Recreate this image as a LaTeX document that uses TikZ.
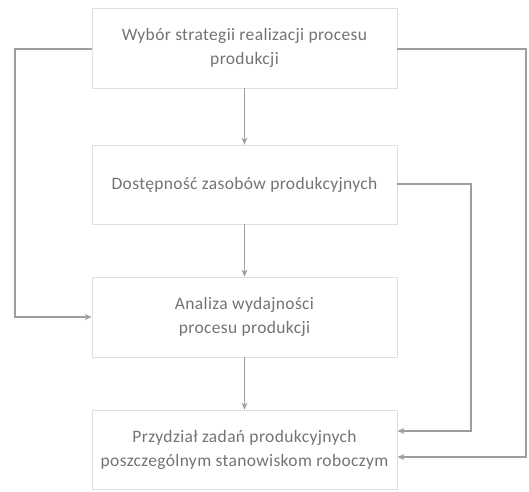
\documentclass[tikz,border=0pt]{standalone}
\usepackage{fontspec}
\setmainfont{Carlito}[LetterSpace=2]
\usetikzlibrary{arrows.meta}
\begin{document}
\begin{tikzpicture}[x=1pt,y=-1pt,
  box/.style={draw=black!12,line width=0.8pt,minimum width=305pt,inner sep=0pt,align=center,text=black!55,font=\fontsize{17.5}{24}\selectfont},
  conn/.style={draw=black!38,line width=1.2pt,-{Stealth[length=7pt,width=6pt]}}]
\useasboundingbox (0,0) rectangle (529,491);
\node[box,minimum height=80pt] (b1) at (244.5,48) {Wybór strategii realizacji procesu\\produkcji};
\node[box,minimum height=79pt] (b2) at (244.5,184.5) {Dostępność zasobów produkcyjnych};
\node[box,minimum height=80pt] (b3) at (244.5,317) {Analiza wydajności\\procesu produkcji};
\node[box,minimum height=79pt] (b4) at (244.5,449.5) {Przydział zadań produkcyjnych\\poszczególnym stanowiskom roboczym};
\coordinate (l1) at (15,49);
\coordinate (l2) at (15,317);
\coordinate (r1) at (526,49);
\coordinate (r2) at (526,457);
\coordinate (i1) at (471,184);
\coordinate (i2) at (471,431);
\draw[conn] (b1.south) -- (b2.north);
\draw[conn] (b2.south) -- (b3.north);
\draw[conn] (b3.south) -- (b4.north);
\draw[conn] (b1.west |- l1) -- (l1) -- (l2) -- (b3.west);
\draw[conn] (b1.east |- r1) -- (r1) -- (r2) -- (b4.east |- r2);
\draw[conn] (b2.east |- i1) -- (i1) -- (i2) -- (b4.east |- i2);
\end{tikzpicture}
\end{document}
